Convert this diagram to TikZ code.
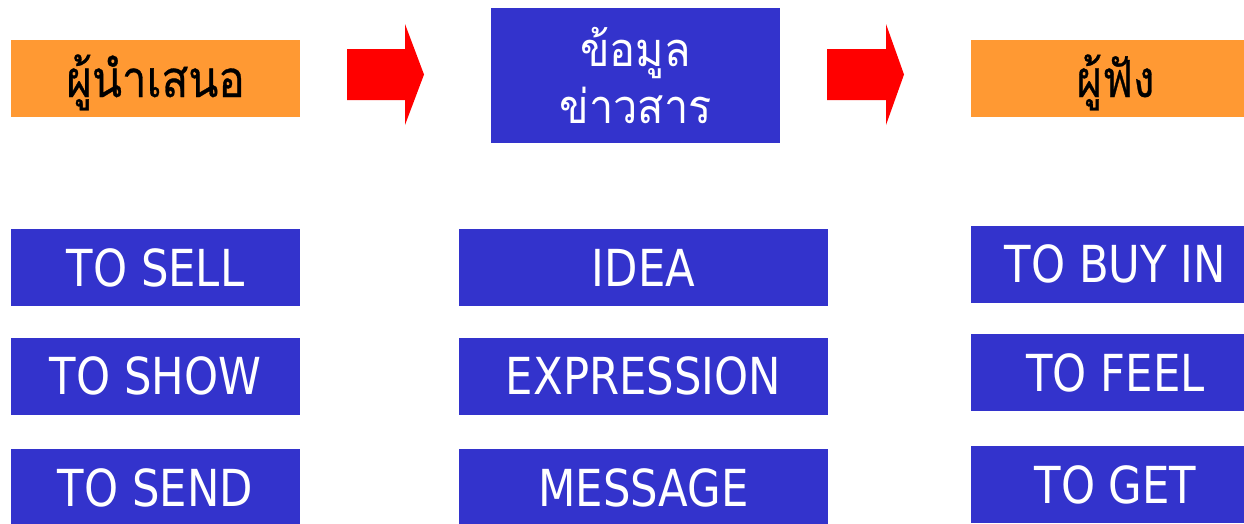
\documentclass[tikz,border=0pt]{standalone}
\usepackage{fontspec}
\setmainfont{DejaVu Sans}[FakeStretch=0.85]
\newfontfamily\thaifont[Script=Thai, FakeStretch=0.92]{Loma}
\newfontfamily\thaiheavy[Script=Thai, FakeStretch=0.86, FakeBold=0.6]{Loma}
\definecolor{boxblue}{HTML}{3333CC}
\definecolor{boxorange}{HTML}{FF9933}
\definecolor{arrowred}{HTML}{FF0000}
\tikzset{
  cell/.style={inner sep=0pt, outer sep=0pt, minimum width=289pt, minimum height=77pt, anchor=center},
  bluecell/.style={cell, fill=boxblue, text=white, font=\fontsize{51}{56}\selectfont},
  orangecell/.style={cell, fill=boxorange, text=black, text height=45pt, text depth=8pt,
                     font=\thaiheavy\fontsize{51}{56}\selectfont},
  blockarrow/.style={fill=arrowred, draw=none}
}
\begin{document}
\begin{tikzpicture}[x=1pt,y=-1pt]
\useasboundingbox (0,0) rectangle (1244,523);
% top row
\node[orangecell] (sender) at (155.5,78.5) {ผู้นำเสนอ};
\node[cell, fill=boxblue, text=white, minimum height=135pt, align=center,
      font=\thaifont\fontsize{47}{57}\selectfont] (msg) at (635.5,75.5) {ข้อมูล\\ข่าวสาร};
\node[orangecell] (receiver) at (1115.5,78.5) {ผู้ฟัง};
% block arrows
\fill[blockarrow] (347,49) -- (405,49) -- (405,24) -- (424,74.5) -- (405,125) -- (405,100) -- (347,100) -- cycle;
\fill[blockarrow] (827,49) -- (886,49) -- (886,24) -- (904,74.5) -- (886,125) -- (886,100) -- (827,100) -- cycle;
% left column
\node[bluecell] (sell) at (155.5,267.5) {TO SELL};
\node[bluecell] (show) at (155.5,376) {TO SHOW};
\node[bluecell] (send) at (155.5,487.5) {TO SEND};
% middle column
\node[bluecell, minimum width=369pt] (idea) at (643.5,267.5) {IDEA};
\node[bluecell, minimum width=369pt] (expr) at (643.5,376) {EXPRESSION};
\node[bluecell, minimum width=369pt] (mess) at (643.5,487.5) {MESSAGE};
% right column
\node[bluecell] (buy) at (1115.5,264) {TO BUY IN};
\node[bluecell] (feel) at (1115.5,372.5) {TO FEEL};
\node[bluecell] (get) at (1115.5,484.5) {TO GET};
\end{tikzpicture}
\end{document}
